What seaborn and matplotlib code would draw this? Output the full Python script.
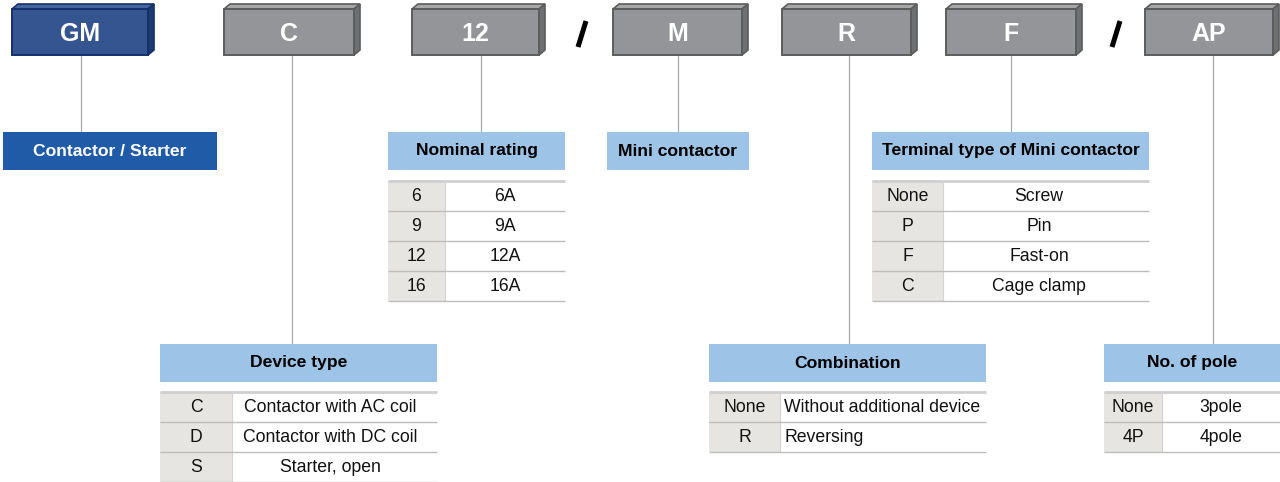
import matplotlib
matplotlib.use("Agg")
import matplotlib.pyplot as plt
from matplotlib.patches import Rectangle, Polygon
import seaborn as sns

sns.set_theme(style="white")
plt.rcParams['font.family'] = ['Liberation Sans', 'DejaVu Sans']

# ---- data ----
code_parts = ["GM", "C", "12", "M", "R", "F", "AP"]
header_titles = ["Contactor / Starter", "Device type", "Nominal rating", "Mini contactor",
                 "Combination", "Terminal type of Mini contactor", "No. of pole"]
nominal_codes = ["6", "9", "12", "16"]
nominal_desc = ["6A", "9A", "12A", "16A"]
terminal_codes = ["None", "P", "F", "C"]
terminal_desc = ["Screw", "Pin", "Fast-on", "Cage clamp"]
device_codes = ["C", "D", "S"]
device_desc = ["Contactor with AC coil", "Contactor with DC coil", "Starter, open"]
combination_codes = ["None", "R"]
combination_desc = ["Without additional device", "Reversing"]
pole_codes = ["None", "4P"]
pole_desc = ["3pole", "4pole"]

# ---- layout (pixel space) ----
W, H = 1280, 482
fig = plt.figure(figsize=(12.8, 4.82), dpi=100)
ax = fig.add_axes([0, 0, 1, 1])
ax.set_xlim(0, W)
ax.set_ylim(H, 0)
ax.axis("off")

box_x = [(12, 148), (224, 354), (412, 539), (613, 742), (782, 911), (946, 1076), (1145, 1273)]
line_x = [81, 292, 481, 678, 849, 1011, 1213]
line_end = [132, 344, 132, 132, 344, 132, 344]

LIGHT = "#9dc3e6"
DARK = "#1f5ba6"
GRAYCELL = "#e6e5e1"
VLINE = "#aaaaaa"

# connector lines
for lx, le in zip(line_x, line_end):
    ax.plot([lx, lx], [55, le], color=VLINE, lw=0.9, zorder=1, solid_capstyle="butt")

# 3D code boxes
d_x, d_y = 6, 5
for i, (label, (x0, x1)) in enumerate(zip(code_parts, box_x)):
    if i == 0:
        front, top, side, edge = "#34558f", "#45659e", "#1f3a70", "#15306a"
    else:
        front, top, side, edge = "#939598", "#a6a7a9", "#6e6f71", "#5c5c5c"
    yt, yb = 9, 55
    ax.add_patch(Polygon([(x0, yt), (x0 + d_x, yt - d_y), (x1 + d_x, yt - d_y), (x1, yt)],
                         closed=True, facecolor=top, edgecolor=edge, lw=1.2, zorder=3))
    ax.add_patch(Polygon([(x1, yt), (x1 + d_x, yt - d_y), (x1 + d_x, yb - d_y), (x1, yb)],
                         closed=True, facecolor=side, edgecolor=edge, lw=1.2, zorder=3))
    ax.add_patch(Rectangle((x0, yt), x1 - x0, yb - yt, facecolor=front, edgecolor=edge,
                           lw=1.4, zorder=4))
    ax.text((x0 + x1) / 2, 34, label, ha="center", va="center", fontsize=18,
            fontweight="bold", color="white", zorder=5)

# slashes (thick slanted separators)
for sx in [582, 1116]:
    ax.plot([sx - 4, sx + 4], [47, 21], color="black", lw=3.6, solid_capstyle="butt", zorder=5)

# header boxes
headers = [
    (header_titles[0], 3, 217, 132, DARK, "white"),
    (header_titles[1], 160, 437, 344, LIGHT, "black"),
    (header_titles[2], 388, 565, 132, LIGHT, "black"),
    (header_titles[3], 607, 749, 132, LIGHT, "black"),
    (header_titles[4], 709, 986, 344, LIGHT, "black"),
    (header_titles[5], 872, 1149, 132, LIGHT, "black"),
    (header_titles[6], 1104, 1280, 344, LIGHT, "black"),
]
for text, x0, x1, y0, fc, tc in headers:
    ax.add_patch(Rectangle((x0, y0), x1 - x0, 38, facecolor=fc, edgecolor="none", zorder=2))
    ax.text((x0 + x1) / 2, y0 + 19, text, ha="center", va="center", fontsize=12.6,
            fontweight="bold", color=tc, zorder=3)


def draw_table(codes, descs, x0, xsplit, x1, ytop, desc_x, desc_ha="center", row_h=30):
    n = len(codes)
    ax.add_patch(Rectangle((x0, ytop), xsplit - x0, row_h * n, facecolor=GRAYCELL,
                           edgecolor="none", zorder=1))
    ax.plot([x0, x1], [ytop, ytop], color="#cfcfcf", lw=2.0, zorder=2, solid_capstyle="butt")
    ax.plot([xsplit, xsplit], [ytop, ytop + row_h * n], color="#d4d4d4", lw=0.8, zorder=2)
    for r in range(n):
        yb = ytop + row_h * (r + 1)
        ax.plot([x0, x1], [yb, yb], color="#bdbdbd", lw=1.0, zorder=2, solid_capstyle="butt")
        yc = ytop + row_h * r + row_h / 2 + 0.5
        ax.text((x0 + xsplit) / 2, yc, codes[r], ha="center", va="center", fontsize=12.7,
                color="#111111", zorder=3)
        ax.text(desc_x, yc, descs[r], ha=desc_ha, va="center", fontsize=12.7,
                color="#111111", zorder=3)


draw_table(nominal_codes, nominal_desc, 388, 445, 565, 181, 505)
draw_table(terminal_codes, terminal_desc, 872, 943, 1149, 181, 1039)
draw_table(device_codes, device_desc, 160, 232, 437, 392, 330)
draw_table(combination_codes, combination_desc, 709, 780, 986, 392, 784, desc_ha="left")
draw_table(pole_codes, pole_desc, 1104, 1162, 1280, 392, 1221)

fig.savefig("out.png", dpi=100, facecolor="white")
